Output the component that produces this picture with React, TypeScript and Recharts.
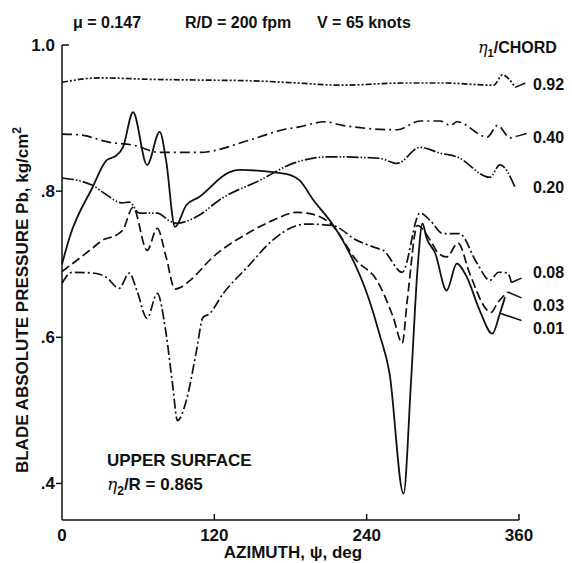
import React from 'react';
import { LineChart, Line, XAxis, YAxis, ReferenceLine } from 'recharts';

// ---------- data (azimuth psi in deg, blade absolute pressure in kg/cm^2) ----------
const psiTicks = [0, 120, 240, 360];
const pTicks = [0.4, 0.6, 0.8, 1.0];
const pTickLabels = ['.4', '.6', '.8', '1.0'];

const psi092 = [0, 30, 70, 110, 150, 185, 220, 270, 300, 340, 347, 357];
const p092 = [0.949, 0.955, 0.953, 0.952, 0.951, 0.948, 0.945, 0.948, 0.948, 0.945, 0.959, 0.942];

const psi040 = [0, 14, 37, 56, 77, 108, 148, 174, 187, 207, 221, 264, 282, 298, 306, 311, 335, 343, 353, 358];
const p040 = [0.878, 0.877, 0.867, 0.863, 0.853, 0.853, 0.870, 0.884, 0.888, 0.895, 0.890, 0.884, 0.896, 0.896, 0.890, 0.895, 0.874, 0.890, 0.873, 0.875];

const psi020 = [0, 24, 35, 47, 53, 61, 75, 85, 90, 108, 124, 156, 182, 211, 250, 264, 282, 298, 311, 337, 345, 357];
const p020 = [0.818, 0.808, 0.795, 0.784, 0.785, 0.770, 0.770, 0.759, 0.756, 0.767, 0.788, 0.815, 0.838, 0.847, 0.845, 0.838, 0.860, 0.852, 0.847, 0.819, 0.836, 0.805];

const psi008 = [0, 8, 24, 35, 45, 53, 59, 67, 75, 82, 87, 91, 98, 106, 111, 116, 127, 146, 166, 185, 193, 213, 232, 248, 253, 268, 282, 290, 300, 313, 327, 337, 344, 351, 354];
const p008 = [0.674, 0.689, 0.688, 0.682, 0.667, 0.688, 0.664, 0.626, 0.660, 0.605, 0.537, 0.486, 0.514, 0.582, 0.627, 0.632, 0.660, 0.696, 0.733, 0.753, 0.755, 0.753, 0.733, 0.722, 0.719, 0.689, 0.770, 0.760, 0.742, 0.742, 0.701, 0.678, 0.689, 0.688, 0.675];

const psi003 = [0, 24, 32, 43, 48, 56, 67, 75, 82, 89, 93, 101, 119, 146, 166, 185, 193, 213, 232, 248, 261, 268, 272, 280, 290, 296, 303, 312, 321, 335, 338, 343, 351];
const p003 = [0.690, 0.722, 0.733, 0.740, 0.747, 0.778, 0.719, 0.749, 0.710, 0.666, 0.668, 0.678, 0.710, 0.742, 0.760, 0.771, 0.770, 0.753, 0.705, 0.678, 0.627, 0.592, 0.651, 0.753, 0.733, 0.716, 0.710, 0.729, 0.688, 0.637, 0.634, 0.647, 0.662];

const psi001 = [0, 6, 24, 35, 43, 48, 56, 67, 77, 82, 89, 98, 108, 132, 140, 161, 180, 187, 198, 213, 221, 242, 250, 258, 269, 275, 280, 284, 287, 294, 303, 311, 319, 329, 339, 345, 349];
const p001 = [0.700, 0.737, 0.805, 0.842, 0.849, 0.860, 0.908, 0.836, 0.881, 0.842, 0.751, 0.781, 0.792, 0.826, 0.829, 0.827, 0.822, 0.815, 0.788, 0.755, 0.733, 0.651, 0.605, 0.551, 0.386, 0.541, 0.692, 0.756, 0.737, 0.715, 0.664, 0.701, 0.682, 0.637, 0.605, 0.633, 0.655];

const zip = (xs: number[], ys: number[]) => xs.map((x, i) => ({ psi: x, p: ys[i] }));

const d092 = zip(psi092, p092);
const d040 = zip(psi040, p040);
const d020 = zip(psi020, p020);
const d008 = zip(psi008, p008);
const d003 = zip(psi003, p003);
const d001 = zip(psi001, p001);

const FONT = '"Liberation Sans", Arial, Helvetica, sans-serif';
const INK = '#111';

const YTick = (props: any) => {
  const { x, y, payload } = props;
  const v = payload.value;
  const label = pTickLabels[pTicks.indexOf(v)] ?? String(v);
  const top = Math.abs(v - 1.0) < 1e-6;
  return (
    <g>
      {top ? (
        <line x1={x} x2={x + 7} y1={y} y2={y} stroke={INK} strokeWidth={1.5} />
      ) : (
        <line x1={x - 6} x2={x} y1={y} y2={y} stroke={INK} strokeWidth={1.5} />
      )}
      <text x={x - 7} y={y} textAnchor="end" dominantBaseline="central" fontFamily={FONT} fontWeight="bold" fontSize={17} fill={INK}>
        {label}
      </text>
    </g>
  );
};

const XTick = (props: any) => {
  const { x, y, payload } = props;
  const v = payload.value;
  return (
    <g>
      {v !== 0 && <line x1={x} x2={x} y1={y} y2={y - 6} stroke={INK} strokeWidth={1.5} />}
      <text x={x} y={y + 15} textAnchor="middle" dominantBaseline="central" fontFamily={FONT} fontWeight="bold" fontSize={17} fill={INK}>
        {v}
      </text>
    </g>
  );
};

const txt = { fontFamily: FONT, fontWeight: 'bold' as const, fill: INK };

export default function App() {
  return (
    <div style={{ position: 'absolute', left: 0, top: 0, width: 572, height: 563, background: '#fff' }}>
      <LineChart width={572} height={563} margin={{ top: 45, right: 53, bottom: 0, left: 0 }}>
        <XAxis
          dataKey="psi"
          type="number"
          domain={[0, 360]}
          ticks={psiTicks}
          height={43}
          tickSize={0}
          tickMargin={0}
          tickLine={false}
          tick={<XTick />}
          axisLine={{ stroke: INK, strokeWidth: 1.5 }}
          allowDuplicatedCategory={false}
        />
        <YAxis
          type="number"
          domain={[0.35, 1.0]}
          ticks={pTicks}
          width={62}
          tickSize={0}
          tickMargin={0}
          tickLine={false}
          tick={<YTick />}
          axisLine={{ stroke: INK, strokeWidth: 1.5 }}
        />
        <Line data={d092} dataKey="p" type="monotone" stroke={INK} strokeWidth={1.7} strokeDasharray="6 2 2 2 2 2" dot={false} isAnimationActive={false} />
        <Line data={d040} dataKey="p" type="monotone" stroke={INK} strokeWidth={1.7} strokeDasharray="10 4 2 4" dot={false} isAnimationActive={false} />
        <Line data={d020} dataKey="p" type="monotone" stroke={INK} strokeWidth={1.7} strokeDasharray="12 2 1.5 2 1.5 2" dot={false} isAnimationActive={false} />
        <Line data={d008} dataKey="p" type="monotone" stroke={INK} strokeWidth={1.7} strokeDasharray="10 3 2 3" dot={false} isAnimationActive={false} />
        <Line data={d003} dataKey="p" type="monotone" stroke={INK} strokeWidth={1.7} strokeDasharray="9 4" dot={false} isAnimationActive={false} />
        <Line data={d001} dataKey="p" type="monotone" stroke={INK} strokeWidth={1.8} dot={false} isAnimationActive={false} />
        <ReferenceLine segment={[{ x: 357, y: 0.942 }, { x: 365, y: 0.948 }]} stroke={INK} strokeWidth={1.5} ifOverflow="visible" />
        <ReferenceLine segment={[{ x: 358, y: 0.875 }, { x: 366, y: 0.879 }]} stroke={INK} strokeWidth={1.5} ifOverflow="visible" />
        <ReferenceLine segment={[{ x: 354, y: 0.675 }, { x: 362, y: 0.681 }]} stroke={INK} strokeWidth={1.5} ifOverflow="visible" />
        <ReferenceLine segment={[{ x: 351, y: 0.662 }, { x: 362, y: 0.654 }]} stroke={INK} strokeWidth={1.5} ifOverflow="visible" />
        <ReferenceLine segment={[{ x: 345, y: 0.633 }, { x: 362, y: 0.623 }]} stroke={INK} strokeWidth={1.5} ifOverflow="visible" />
      </LineChart>
      <svg width={572} height={563} style={{ position: 'absolute', left: 0, top: 0, pointerEvents: 'none' }}>
        <text x={73} y={22} fontSize={16} dominantBaseline="central" {...txt}>μ = 0.147</text>
        <text x={185} y={22} fontSize={16} dominantBaseline="central" {...txt}>R/D = 200 fpm</text>
        <text x={317} y={22} fontSize={16} dominantBaseline="central" {...txt}>V = 65 knots</text>
        <text x={478} y={53} fontSize={16} {...txt}>
          <tspan fontStyle="italic" fontWeight="normal" fontFamily='"DejaVu Serif", serif'>η</tspan>
          <tspan dy={4} fontSize={11}>1</tspan>
          <tspan dy={-4}>/CHORD</tspan>
        </text>
        <text x={533} y={84} fontSize={16} dominantBaseline="central" {...txt}>0.92</text>
        <text x={533} y={137} fontSize={16} dominantBaseline="central" {...txt}>0.40</text>
        <text x={533} y={187} fontSize={16} dominantBaseline="central" {...txt}>0.20</text>
        <text x={533} y={272} fontSize={16} dominantBaseline="central" {...txt}>0.08</text>
        <text x={533} y={305} fontSize={16} dominantBaseline="central" {...txt}>0.03</text>
        <text x={533} y={328} fontSize={16} dominantBaseline="central" {...txt}>0.01</text>
        <text x={107} y={460} fontSize={17} dominantBaseline="central" {...txt}>UPPER SURFACE</text>
        <text x={107} y={490} fontSize={17} {...txt}>
          <tspan fontStyle="italic" fontWeight="normal" fontFamily='"DejaVu Serif", serif'>η</tspan>
          <tspan dy={5} fontSize={12}>2</tspan>
          <tspan dy={-5}>/R = 0.865</tspan>
        </text>
        <text x={293} y={552} fontSize={17} textAnchor="middle" dominantBaseline="central" {...txt}>AZIMUTH, ψ, deg</text>
        <text x={22} y={300} fontSize={17} textAnchor="middle" transform="rotate(-90, 22, 300)" {...txt}>
          <tspan dy={6}>BLADE ABSOLUTE PRESSURE Pb, kg/cm</tspan>
          <tspan dy={-7} fontSize={12}>2</tspan>
        </text>
      </svg>
    </div>
  );
}
